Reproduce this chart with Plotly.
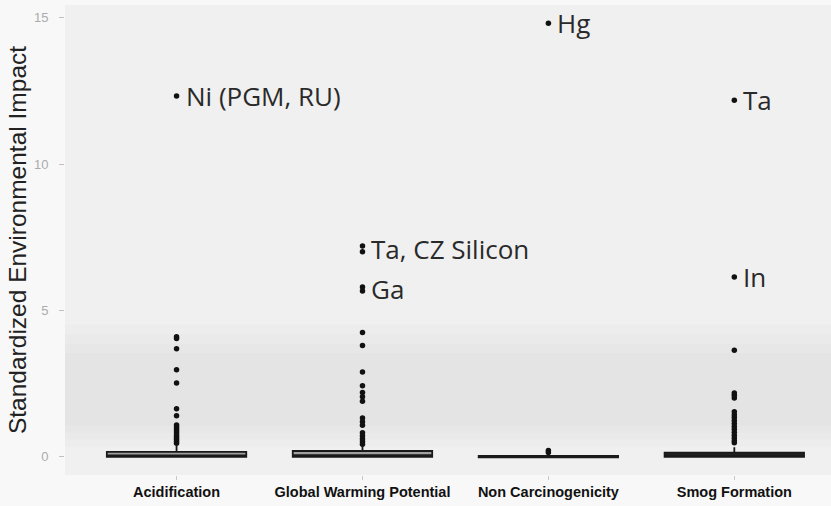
import plotly.graph_objects as go

# Impact categories on the x axis
categories = ["Acidification", "Global Warming Potential", "Non Carcinogenicity", "Smog Formation"]

# Box summary statistics per category
q1 = [0.0, 0.0, -0.02, 0.0]
median = [0.05, 0.06, 0.0, 0.05]
q3 = [0.17, 0.20, 0.03, 0.14]
lower_fence = [0.0, 0.0, -0.02, 0.0]
upper_fence = [0.38, 0.40, 0.06, 0.33]

# Outlying materials per category
acid_outliers = [12.32, 4.10, 4.04, 3.69, 2.97, 2.52, 1.64, 1.40,
                 1.09, 1.02, 0.95, 0.88, 0.81, 0.74, 0.67, 0.60, 0.53, 0.46]
gwp_outliers = [7.20, 7.00, 5.80, 5.66, 4.25, 3.80, 2.90, 2.43, 2.20, 2.05,
                1.90, 1.33, 1.20, 1.08, 0.82, 0.72, 0.62, 0.52, 0.43]
noncarc_outliers = [14.81, 0.22, 0.15]
smog_outliers = [12.18, 6.14, 3.64, 2.18, 2.10, 2.01, 1.54, 1.44, 1.34, 1.24,
                 1.14, 1.04, 0.94, 0.84, 0.74, 0.64, 0.55, 0.48]
outliers = [acid_outliers, gwp_outliers, noncarc_outliers, smog_outliers]

# Named materials
label_category = ["Acidification", "Global Warming Potential", "Global Warming Potential",
                  "Non Carcinogenicity", "Smog Formation", "Smog Formation"]
label_value = [12.32, 7.10, 5.73, 14.81, 12.18, 6.14]
label_text = ["Ni (PGM, RU)", "Ta, CZ Silicon", "Ga", "Hg", "Ta", "In"]

box_fill = ["#a0a0a0", "#a0a0a0", "#444444", "#2a2a2a"]

fig = go.Figure()

for i, cat in enumerate(categories):
    fig.add_trace(go.Box(
        x=[cat], q1=[q1[i]], median=[median[i]], q3=[q3[i]],
        lowerfence=[lower_fence[i]], upperfence=[upper_fence[i]],
        boxpoints=False, width=0.75, whiskerwidth=0,
        fillcolor=box_fill[i], line=dict(color="#1a1a1a", width=1.8),
        showlegend=False, hoverinfo="skip",
    ))
    fig.add_trace(go.Scatter(
        x=[cat] * len(outliers[i]), y=outliers[i], mode="markers",
        marker=dict(color="#111111", size=5.5),
        showlegend=False, hoverinfo="skip",
    ))

for cat, val, txt in zip(label_category, label_value, label_text):
    fig.add_annotation(
        x=cat, y=val, text=txt, showarrow=False, xanchor="left", yanchor="middle",
        xshift=7, font=dict(family="Open Sans", size=26, color="#2a2a2a"),
    )

# soft, slightly darker band across the lower part of the panel
for lo, hi in [(0.06, 0.32), (0.075, 0.30), (0.09, 0.28), (0.105, 0.26)]:
    fig.add_shape(type="rect", xref="paper", yref="paper", x0=0, x1=1, y0=lo, y1=hi,
                  fillcolor="rgba(0,0,0,0.011)", line=dict(width=0), layer="below")

fig.update_layout(
    width=831, height=506,
    margin=dict(l=65, r=0, t=5, b=31),
    paper_bgcolor="#f8f8f8", plot_bgcolor="#f0f0f0",
    font=dict(family="Liberation Sans, Arial"),
)
fig.update_xaxes(
    type="category", categoryorder="array", categoryarray=categories,
    range=[-0.6, 3.52], showgrid=False, zeroline=False,
    ticks="outside", ticklen=4, tickcolor="#c8c8c8",
    tickfont=dict(family="Liberation Sans, Arial", size=14.5, color="#111111", weight="bold"),
)
fig.update_yaxes(
    range=[-0.62, 15.43], tickvals=[0, 5, 10, 15], showgrid=False, zeroline=False,
    ticks="outside", ticklen=5, tickcolor="#c0c0c0", ticklabelstandoff=8,
    tickfont=dict(family="Liberation Sans, Arial", size=13, color="#ababab"),
    title=dict(text="Standardized Environmental Impact", standoff=0,
               font=dict(family="Liberation Sans, Arial", size=24.5, color="#222222")),
)

fig.write_html("out.html")
